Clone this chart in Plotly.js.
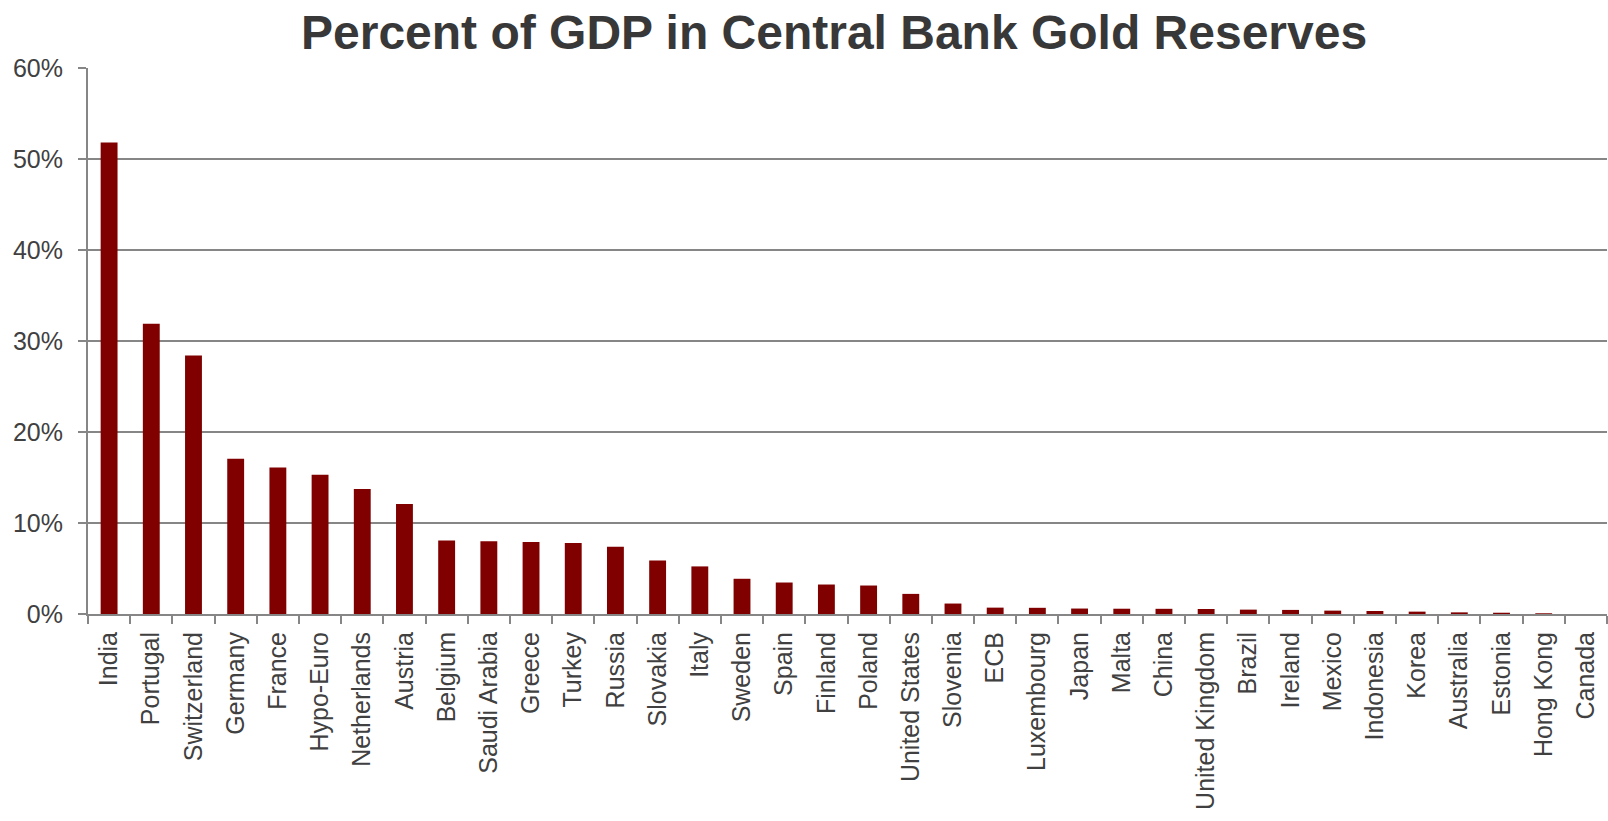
<!DOCTYPE html>
<html>
<head>
<meta charset="utf-8">
<script src="https://cdn.plot.ly/plotly-3.0.1.min.js"></script>
<style>html,body{margin:0;padding:0;background:#fff;}#chart{width:1608px;height:821px;}</style>
</head>
<body>
<div id="chart"></div>
<script>
var countries = ["India","Portugal","Switzerland","Germany","France","Hypo-Euro","Netherlands","Austria","Belgium","Saudi Arabia","Greece","Turkey","Russia","Slovakia","Italy","Sweden","Spain","Finland","Poland","United States","Slovenia","ECB","Luxembourg","Japan","Malta","China","United Kingdom","Brazil","Ireland","Mexico","Indonesia","Korea","Australia","Estonia","Hong Kong","Canada"];
var goldPctGDP = [51.8,31.9,28.4,17.05,16.1,15.3,13.75,12.1,8.08,7.99,7.92,7.81,7.4,5.89,5.23,3.87,3.46,3.24,3.13,2.21,1.15,0.7,0.68,0.6,0.58,0.57,0.55,0.48,0.45,0.37,0.33,0.26,0.18,0.14,0.08,0.0];
var yTickVals = [0,10,20,30,40,50,60];
var yTickText = ["0%","10%","20%","30%","40%","50%","60%"];
var chartTitle = "Percent of GDP in Central Bank Gold Reserves";

var trace = {
  type: "bar",
  x: countries,
  y: goldPctGDP,
  marker: {color: "#800000"},
  hoverinfo: "x+y"
};

var layout = {
  width: 1608,
  height: 821,
  paper_bgcolor: "#ffffff",
  plot_bgcolor: "#ffffff",
  margin: {l: 88, r: 1, t: 68, b: 207, pad: 0},
  bargap: 0.6,
  showlegend: false,
  font: {family: "Liberation Sans, Arial, sans-serif", color: "#404040", size: 25},
  title: {
    text: "<b>" + chartTitle + "</b>",
    font: {family: "Liberation Sans, Arial, sans-serif", size: 48, color: "#383838"},
    x: 0.5187, xanchor: "center",
    y: 0.961, yanchor: "middle"
  },
  xaxis: {
    type: "category",
    tickangle: -90,
    tickson: "boundaries",
    ticks: "outside",
    ticklen: 8,
    tickwidth: 2,
    tickcolor: "#868686",
    showline: true,
    linecolor: "#868686",
    linewidth: 2,
    showgrid: false,
    tickfont: {size: 25, color: "#404040"},
    ticklabelstandoff: 6,
    automargin: false
  },
  yaxis: {
    range: [0, 60],
    tickvals: yTickVals,
    ticktext: yTickText,
    ticks: "outside",
    ticklen: 8,
    tickwidth: 2,
    tickcolor: "#868686",
    showline: true,
    linecolor: "#868686",
    linewidth: 2,
    showgrid: true,
    gridcolor: "#868686",
    gridwidth: 2,
    zeroline: false,
    tickfont: {size: 25, color: "#404040"},
    ticklabelstandoff: 10,
    automargin: false
  }
};

Plotly.newPlot("chart", [trace], layout, {displayModeBar: false, staticPlot: true});
</script>
</body>
</html>
